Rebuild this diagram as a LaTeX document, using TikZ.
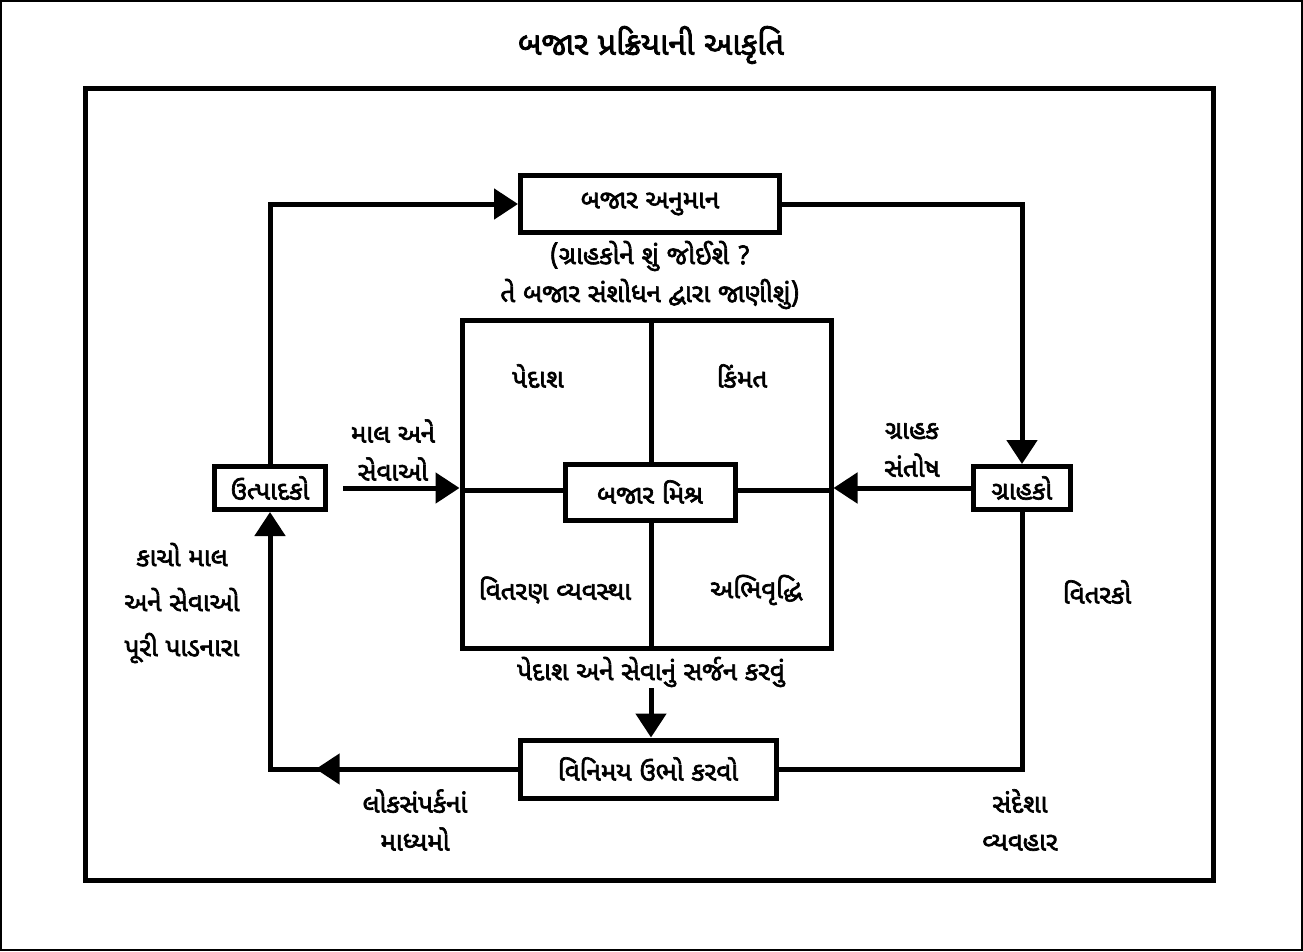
\documentclass[tikz,border=0pt]{standalone}
\usepackage{fontspec}
\newfontfamily\gujfont[Script=Gujarati,AutoFakeBold=2.5]{Noto Sans Gujarati UI}
\usetikzlibrary{arrows.meta, positioning, decorations.markings}

\tikzset{
	box/.style={draw, line width=5pt, fill=white, inner sep=0pt, font=\gujfont\bfseries\fontsize{26}{38}\selectfont},
	lbl/.style={align=center, inner sep=1pt, font=\gujfont\bfseries\fontsize{26}{38}\selectfont},
	link/.style={line width=5pt},
	tip/.style={-{Triangle[length=24pt,width=30pt]}},
	midtip/.style={postaction={decorate}, decoration={markings,
		mark=at position #1 with {\arrow{Triangle[length=24pt,width=30pt]}}}}
}

\begin{document}
\begin{tikzpicture}[x=1pt, y=-1pt]
	\useasboundingbox (0,0) rectangle (1303,951);
	\draw[line width=2pt] (1,1) rectangle (1302,950);
	\draw[line width=5pt] (85,88) rectangle (1213,880);

	% title
	\node[lbl, font=\gujfont\bfseries\fontsize{32}{36}\selectfont] (title) at (651,45) {બજાર પ્રક્રિયાની આકૃતિ};

	% boxes
	\node[box, minimum width=259pt, minimum height=57pt] (anumaan) at (650,204) {બજાર અનુમાન};
	\node[box, minimum width=111pt, minimum height=43pt] (utpadako) at (270,488) {ઉત્પાદકો};
	\node[box, minimum width=97pt, minimum height=43pt] (grahako) at (1022,488) {ગ્રાહકો};
	\node[box, minimum width=256pt, minimum height=58pt] (vinimay) at (648,769) {વિનિમય ઉભો કરવો};

	% marketing mix
	\node[draw, line width=5pt, minimum width=369pt, minimum height=328pt] (mixframe) at (646.5,484) {};
	\draw[link] (651,320) -- (651,648);
	\draw[link] (462,490) -- (831,490);
	\node[box, minimum width=170pt, minimum height=56pt] (mishr) at (650,492) {બજાર મિશ્ર};
	\node[lbl] (pedash) at (538,376) {પેદાશ};
	\node[lbl] (kimat) at (742,376) {કિંમત};
	\node[lbl] (vitaran) at (555,590) {વિતરણ વ્યવસ્થા};
	\node[lbl] (abhivrddhi) at (756,590) {અભિવૃદ્ધિ};

	% labels
	\node[lbl] (prashna) at (650,275) {(ગ્રાહકોને શું જોઈશે ?\\તે બજાર સંશોધન દ્વારા જાણીશું)};
	\node[lbl] (malseva) at (393,450) {માલ અને\\સેવાઓ};
	\node[lbl] (santosh) at (912,450) {ગ્રાહક\\સંતોષ};
	\node[lbl, font=\gujfont\bfseries\fontsize{26}{45}\selectfont] (kacho) at (182,603) {કાચો માલ\\અને સેવાઓ\\પૂરી પાડનારા};
	\node[lbl] (vitarko) at (1097,592) {વિતરકો};
	\node[lbl] (lok) at (415,820) {લોકસંપર્કનાં\\માધ્યમો};
	\node[lbl] (sandesh) at (1020,820) {સંદેશા\\વ્યવહાર};
	\node[lbl] (srjan) at (651,672) {પેદાશ અને સેવાનું સર્જન કરવું};

	% connectors
	\draw[link, tip] (utpadako.north) |- (anumaan.west);
	\draw[link, tip] (anumaan.east) -| (grahako.north);
	\draw[link, tip, shorten <=15pt] (utpadako.east) -- (mixframe.west |- utpadako.east);
	\draw[link, tip] (grahako.west) -- (mixframe.east |- grahako.west);
	\draw[link] (grahako.south) |- (vinimay.east);
	\draw[link, tip, midtip=0.4] (vinimay.west) -| (utpadako.south);
	\draw[link, tip] (srjan.south) -- (srjan.south |- vinimay.north);
\end{tikzpicture}
\end{document}
